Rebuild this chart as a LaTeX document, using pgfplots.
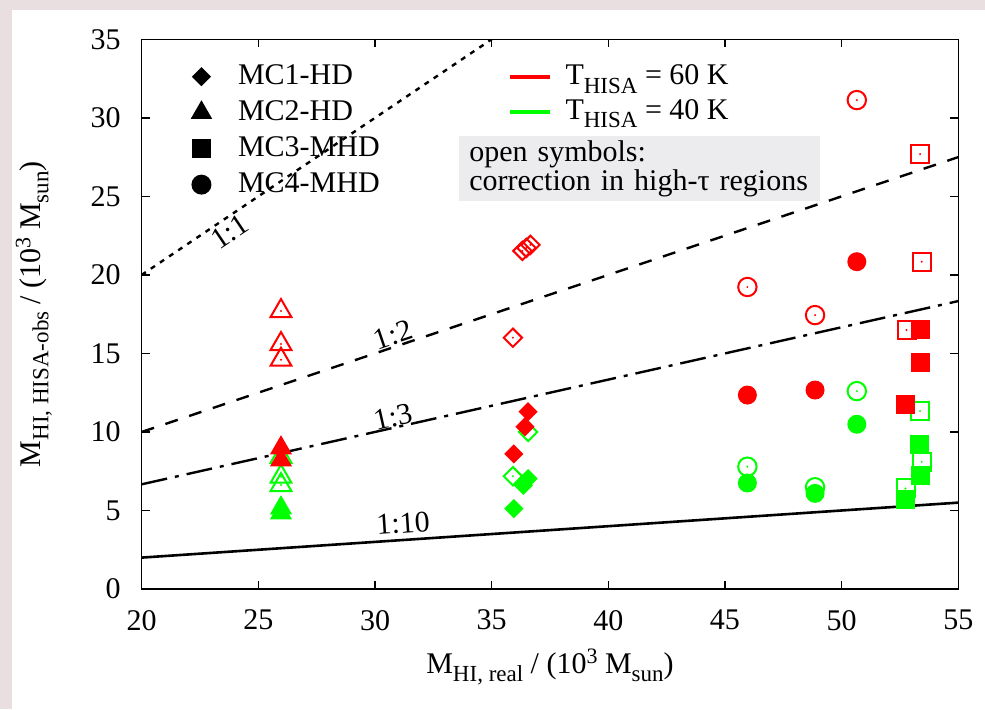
\documentclass[border=0pt]{standalone}
\usepackage{pgfplots}
\pgfplotsset{compat=1.18}
\usepackage{fontspec}
\setmainfont{Liberation Serif}
\definecolor{bgpink}{RGB}{233,222,224}
\definecolor{boxgrey}{RGB}{236,236,238}
\definecolor{pgreen}{RGB}{0,255,0}
\definecolor{pred}{RGB}{255,0,0}
\newcommand{\sub}[1]{\raisebox{-4.2pt}{\fontsize{11.5}{12}\selectfont #1}}
\newcommand{\supr}[1]{\raisebox{4.8pt}{\fontsize{11}{12}\selectfont #1}}
\newcommand{\bigfont}{\fontsize{15}{18}\selectfont}

\pgfdeclareplotmark{ocirc}{%
  \pgfpathcircle{\pgfpointorigin}{\pgfplotmarksize}\pgfusepathqstroke
  \pgfpathcircle{\pgfpointorigin}{0.55pt}\pgfusepathqfill}
\pgfdeclareplotmark{fcirc}{%
  \pgfpathcircle{\pgfpointorigin}{\pgfplotmarksize}\pgfusepathqfill}
\pgfdeclareplotmark{osq}{%
  \pgfpathrectanglecorners{\pgfqpoint{-\pgfplotmarksize}{-\pgfplotmarksize}}{\pgfqpoint{\pgfplotmarksize}{\pgfplotmarksize}}\pgfusepathqstroke
  \pgfpathcircle{\pgfpointorigin}{0.55pt}\pgfusepathqfill}
\pgfdeclareplotmark{fsq}{%
  \pgfpathrectanglecorners{\pgfqpoint{-\pgfplotmarksize}{-\pgfplotmarksize}}{\pgfqpoint{\pgfplotmarksize}{\pgfplotmarksize}}\pgfusepathqfill}
\pgfdeclareplotmark{odia}{%
  \pgfpathmoveto{\pgfqpoint{0pt}{\pgfplotmarksize}}%
  \pgfpathlineto{\pgfqpoint{\pgfplotmarksize}{0pt}}%
  \pgfpathlineto{\pgfqpoint{0pt}{-\pgfplotmarksize}}%
  \pgfpathlineto{\pgfqpoint{-\pgfplotmarksize}{0pt}}%
  \pgfpathclose\pgfusepathqstroke
  \pgfpathcircle{\pgfpointorigin}{0.55pt}\pgfusepathqfill}
\pgfdeclareplotmark{fdia}{%
  \pgfpathmoveto{\pgfqpoint{0pt}{\pgfplotmarksize}}%
  \pgfpathlineto{\pgfqpoint{\pgfplotmarksize}{0pt}}%
  \pgfpathlineto{\pgfqpoint{0pt}{-\pgfplotmarksize}}%
  \pgfpathlineto{\pgfqpoint{-\pgfplotmarksize}{0pt}}%
  \pgfpathclose\pgfusepathqfill}
\pgfdeclareplotmark{otri}{%
  \pgfpathmoveto{\pgfqpointpolar{90}{\pgfplotmarksize}}%
  \pgfpathlineto{\pgfqpointpolar{-30}{\pgfplotmarksize}}%
  \pgfpathlineto{\pgfqpointpolar{210}{\pgfplotmarksize}}%
  \pgfpathclose\pgfusepathqstroke
  \pgfpathcircle{\pgfpointorigin}{0.55pt}\pgfusepathqfill}
\pgfdeclareplotmark{ftri}{%
  \pgfpathmoveto{\pgfqpointpolar{90}{\pgfplotmarksize}}%
  \pgfpathlineto{\pgfqpointpolar{-30}{\pgfplotmarksize}}%
  \pgfpathlineto{\pgfqpointpolar{210}{\pgfplotmarksize}}%
  \pgfpathclose\pgfusepathqfill}

\pgfplotsset{
  base/.style={at={(0,0)}, anchor=south west, scale only axis,
    width=408.3pt, height=274.85pt},
  openm/.style={only marks, mark options={line width=1pt}},
}

\begin{document}
\begin{tikzpicture}
\fill[bgpink] (-70.85pt,-60pt) rectangle (421.65pt,294.5pt);
\fill[white] (-64.85pt,-60pt) rectangle (421.65pt,289.5pt);
\path[use as bounding box] (-70.85pt,-60pt) rectangle (421.65pt,294.5pt);

\begin{axis}[base,
  xmin=20, xmax=55, ymin=0, ymax=35,
  xtick={20,25,...,55}, ytick={0,5,...,35},
  tick align=inside, major tick length=4pt, minor tick num=0,
  axis line style={line width=0.8pt},
  every tick/.style={line width=0.8pt, black},
  tick label style={font=\bigfont},
  /pgf/number format/assume math mode=true,
  xticklabel style={yshift=-7pt}, yticklabel style={xshift=-7pt},
  xlabel={M\sub{HI, real} / (10\supr{3} M\sub{sun})},
  ylabel={M\sub{HI, HISA-obs} / (10\supr{3} M\sub{sun})},
  every axis x label/.style={at={(axis description cs:0.5,-0.142)}, anchor=center, font=\bigfont},
  every axis y label/.style={at={(axis description cs:-0.132,0.5)}, anchor=center, rotate=90, font=\bigfont},
]
% reference lines
\addplot[black, line width=1.2pt, dash pattern=on 2.5pt off 3pt] coordinates {(20,20) (35,35)};
\addplot[black, line width=1.2pt, dash pattern=on 6.5pt off 6pt] coordinates {(20,10) (55,27.5)};
\addplot[black, line width=1.2pt, dash pattern=on 13pt off 4pt on 2pt off 4pt] coordinates {(20,6.6667) (55,18.3333)};
\addplot[black, line width=1.3pt] coordinates {(20,2) (55,5.5)};
\node[rotate=33.95, font=\bigfont] at (axis cs:23.78,22.73) {1:1};
\node[rotate=18.6, font=\bigfont] at (axis cs:30.77,16.19) {1:2};
\node[rotate=12.65, font=\bigfont] at (axis cs:30.78,10.95) {1:3};
\node[rotate=3.85, font=\bigfont] at (axis cs:31.2,4.2) {1:10};

% MC2-HD triangles
\addplot[openm, pred, mark=otri, mark size=6pt] coordinates {(25.97,17.7) (25.97,15.6) (25.97,14.6)};
\addplot[openm, pgreen, mark=otri, mark size=6pt] coordinates {(25.97,8.42) (25.97,7.15) (25.97,6.62)};
\addplot[only marks, pred, mark=ftri, mark size=6.4pt] coordinates {(25.97,8.98) (25.97,8.21)};
\addplot[only marks, pgreen, mark=ftri, mark size=6.4pt] coordinates {(25.97,5.16) (25.97,4.84)};

% MC1-HD diamonds
\addplot[openm, pred, mark=odia, mark size=4.6pt] coordinates {(36.32,21.53) (36.49,21.72) (36.66,21.91) (35.91,16.0)};
\addplot[openm, pgreen, mark=odia, mark size=4.6pt] coordinates {(36.56,10.0) (35.91,7.18)};
\addplot[only marks, pred, mark=fdia, mark size=4.8pt] coordinates {(36.56,11.29) (36.43,10.33) (35.95,8.6)};
\addplot[only marks, pgreen, mark=fdia, mark size=4.8pt] coordinates {(36.56,7.03) (36.36,6.6) (35.95,5.12)};

% MC4-MHD circles
\addplot[openm, pred, mark=ocirc, mark size=4.6pt] coordinates {(50.65,31.13) (45.96,19.23) (48.86,17.44)};
\addplot[openm, pgreen, mark=ocirc, mark size=4.6pt] coordinates {(50.65,12.6) (45.96,7.79) (48.86,6.48)};
\addplot[only marks, pred, mark=fcirc, mark size=4.75pt] coordinates {(50.65,20.84) (45.96,12.35) (48.86,12.67)};
\addplot[only marks, pgreen, mark=fcirc, mark size=4.75pt] coordinates {(50.65,10.49) (45.96,6.75) (48.86,6.09)};

% MC3-MHD squares
\addplot[openm, pred, mark=osq, mark size=4.5pt] coordinates {(53.36,27.69) (53.43,20.84) (52.78,16.49)};
\addplot[openm, pgreen, mark=osq, mark size=4.5pt] coordinates {(53.36,11.33) (53.43,8.1) (52.74,6.4)};
\addplot[only marks, pred, mark=fsq, mark size=4.75pt] coordinates {(53.36,16.53) (53.39,14.41) (52.74,11.76)};
\addplot[only marks, pgreen, mark=fsq, mark size=4.75pt] coordinates {(53.33,9.2) (53.39,7.2) (52.74,5.71)};

\node[anchor=north west, fill=boxgrey, inner xsep=5.3pt, inner ysep=1.5pt, text width=170pt, align=left,
  minimum height=32.35pt, font=\fontsize{15}{14.4}\selectfont]
  at (axis description cs:0.3877,0.824) {open symbols:\\correction in high-τ regions};
\end{axis}

% legend: model symbols
\begin{axis}[base, hide axis, xmin=0, xmax=1, ymin=0, ymax=1,
  legend style={at={(axis description cs:0.058,0.961)}, anchor=north west, draw=none, fill=none,
    font=\bigfont, row sep=2.5pt, inner sep=0pt,
    nodes={inner sep=1pt, text height=10.5pt, text depth=3pt}},
  legend cell align=left,
  legend image code/.code={\path[draw=none, fill=none] (-6pt,0pt) -- (17.3pt,0pt); \draw[#1] plot coordinates {(0pt,0pt)};}]
\addlegendimage{only marks, black, mark=fdia, mark size=4.8pt}
\addlegendentry{MC1-HD}
\addlegendimage{only marks, black, mark=ftri, mark size=6.2pt}
\addlegendentry{MC2-HD}
\addlegendimage{only marks, black, mark=fsq, mark size=4.9pt}
\addlegendentry{MC3-MHD}
\addlegendimage{only marks, black, mark=fcirc, mark size=5pt}
\addlegendentry{MC4-MHD}
\end{axis}

% legend: temperatures
\begin{axis}[base, hide axis, xmin=0, xmax=1, ymin=0, ymax=1,
  legend style={at={(axis description cs:0.4475,0.9595)}, anchor=north west, draw=none, fill=none,
    font=\bigfont, row sep=1.8pt, inner sep=0pt,
    nodes={inner sep=1pt, text height=10.5pt, text depth=3pt}},
  legend cell align=left,
  legend image code/.code={\draw[#1, line width=2pt] (0pt,0pt) -- (20pt,0pt); \path[draw=none, fill=none] (0pt,0pt) -- (27pt,0pt);}]
\addlegendimage{pred}
\addlegendentry{T\sub{HISA} = 60 K}
\addlegendimage{pgreen}
\addlegendentry{T\sub{HISA} = 40 K}
\end{axis}
\end{tikzpicture}
\end{document}
